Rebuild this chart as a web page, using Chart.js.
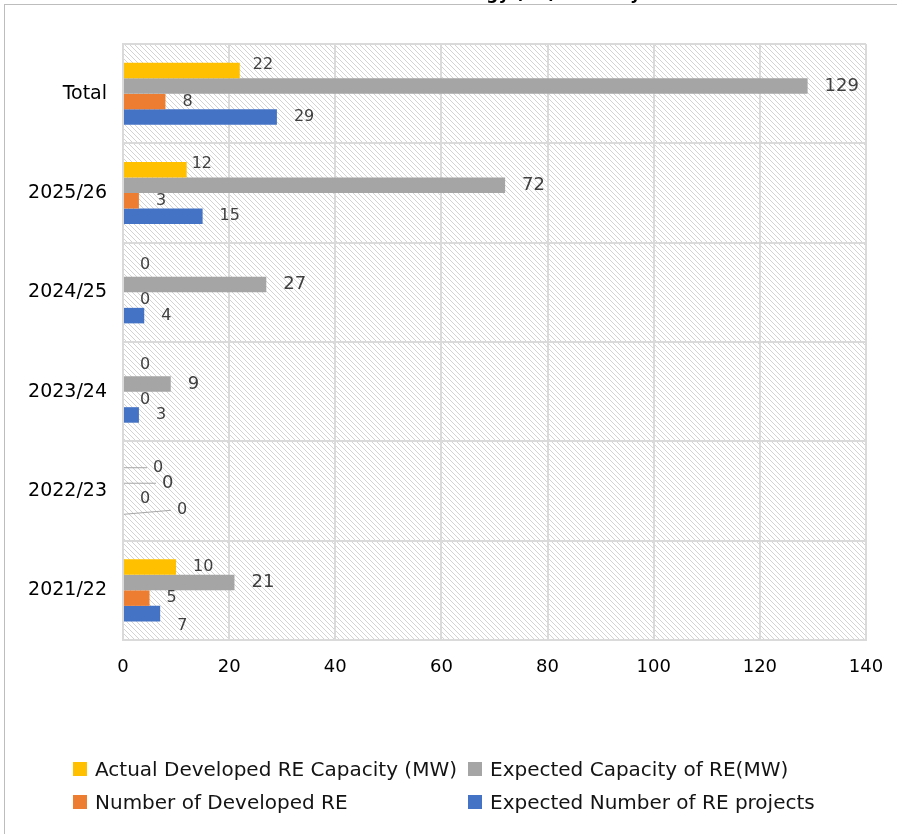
<!DOCTYPE html>
<html>
<head>
<meta charset="utf-8">
<script src="https://cdn.jsdelivr.net/npm/chart.js@4.4.1/dist/chart.umd.min.js"></script>
<style>
  html, body { margin: 0; padding: 0; background: #fff; overflow: hidden; }
  #frame { position: absolute; left: 4px; top: 4px; width: 1000px; height: 1000px;
           border-left: 1px solid #bdbdbd; border-top: 1px solid #bdbdbd; }
  #chart { position: absolute; left: 0; top: 0; }
  #legend { position: absolute; left: 73px; top: 756px; display: grid;
            grid-template-columns: 395px 420px; grid-auto-rows: 33px;
            font-family: "DejaVu Sans", sans-serif; font-size: 20px; color: #141414; }
  #legend .item { display: flex; align-items: center; height: 26px; white-space: nowrap; }
  #legend .swatch { width: 14px; height: 14px; margin-right: 8px; flex: none; }
</style>
</head>
<body>
<div id="frame"></div>
<canvas id="chart" width="897" height="834"></canvas>
<div id="legend"></div>
<script>
// Reporting periods, listed top to bottom
const categories = ['Total', '2025/26', '2024/25', '2023/24', '2022/23', '2021/22'];

// Series values per period
const actualCapacityMW   = [22, 12, 0, 0, 0, 10];
const expectedCapacityMW = [129, 72, 27, 9, 0, 21];
const developedCount     = [8, 3, 0, 0, 0, 5];
const expectedCount      = [29, 15, 4, 3, 0, 7];

const seriesNames = [
  'Actual Developed RE Capacity (MW)',
  'Expected Capacity of RE(MW)',
  'Number of Developed RE',
  'Expected Number of RE projects'
];
const seriesColors = ['#FFC000', '#A5A5A5', '#ED7D31', '#4472C4'];

// Value axis ticks
const xTicks = [0, 20, 40, 60, 80, 100, 120, 140];

const FONT = '"DejaVu Sans", sans-serif';

// Light diagonal hatching for the plot area
function makeHatch() {
  const n = 5;
  const c = document.createElement('canvas');
  c.width = n; c.height = n;
  const g = c.getContext('2d');
  g.fillStyle = '#ffffff';
  g.fillRect(0, 0, n, n);
  g.fillStyle = '#d3d3d3';
  for (let i = 0; i < n; i++) g.fillRect(i, i, 1, 1);
  return g.createPattern(c, 'repeat');
}

const hatchBackground = {
  id: 'hatchBackground',
  beforeDraw(chart) {
    const { ctx, chartArea: a } = chart;
    ctx.save();
    ctx.fillStyle = makeHatch();
    ctx.fillRect(a.left, a.top, a.right - a.left, a.bottom - a.top);
    ctx.restore();
  }
};

// Heading sits above the frame, mostly outside the page
const heading = {
  id: 'heading',
  afterDraw(chart) {
    const ctx = chart.ctx;
    ctx.save();
    ctx.font = 'bold 17px ' + FONT;
    ctx.fillStyle = '#000';
    ctx.textAlign = 'right';
    ctx.textBaseline = 'alphabetic';
    ctx.fillText('Renewable Energy (RE) Delivery', 641, -1);
    ctx.restore();
  }
};

// Value labels at the end of each bar, with leader lines where a label was moved away
const valueLabels = {
  id: 'valueLabels',
  afterDatasetsDraw(chart, args, opts) {
    const ctx = chart.ctx;
    ctx.save();
    chart.data.datasets.forEach((ds, di) => {
      const meta = chart.getDatasetMeta(di);
      const size = opts.sizes[di];
      meta.data.forEach((bar, i) => {
        const v = ds.data[i];
        const n = (opts.nudges[di] && opts.nudges[di][i]) || {};
        const x = bar.x + opts.gap + (n.dx || 0);
        const y = bar.y + opts.dy[di] + (n.dy || 0);
        if (n.leader) {
          ctx.strokeStyle = '#a6a6a6';
          ctx.lineWidth = 1;
          ctx.beginPath();
          ctx.moveTo(bar.x + 1, bar.y);
          ctx.lineTo(x - 6, y);
          ctx.stroke();
        }
        ctx.font = size + 'px ' + FONT;
        ctx.fillStyle = '#404040';
        ctx.textAlign = 'left';
        ctx.textBaseline = 'middle';
        ctx.fillText(String(v), x, y);
      });
    });
    ctx.restore();
  }
};

const chart = new Chart(document.getElementById('chart'), {
  type: 'bar',
  data: {
    labels: categories,
    datasets: [actualCapacityMW, expectedCapacityMW, developedCount, expectedCount].map((d, k) => ({
      label: seriesNames[k],
      data: d,
      backgroundColor: seriesColors[k],
      borderWidth: 0,
      categoryPercentage: 0.625,
      barPercentage: 1.0
    }))
  },
  options: {
    indexAxis: 'y',
    responsive: false,
    devicePixelRatio: 1,
    animation: false,
    layout: { autoPadding: false, padding: { top: 44, right: 31, bottom: 154, left: 0 } },
    plugins: {
      legend: { display: false },
      tooltip: { enabled: false },
      valueLabels: {
        gap: 17,
        dy: [-4, 0, 0, 0],
        sizes: [16, 18, 16, 16],
        nudges: {
          0: { 0: { dx: -4, dy: -2 }, 1: { dx: -12, dy: -2 }, 5: { dy: 4 },
               4: { dx: 13, dy: 4, leader: true } },
          1: { 4: { dx: 22, leader: true } },
          3: { 4: { dx: 37, dy: -4, leader: true }, 5: { dy: 12 } }
        }
      }
    },
    scales: {
      x: {
        min: 0, max: 140,
        afterBuildTicks(s) { s.ticks = xTicks.map(v => ({ value: v })); },
        afterFit(s) { s.height = 40; s.paddingLeft = 0; s.paddingRight = 0; },
        grid: { color: '#dadada', lineWidth: 2, drawTicks: false },
        border: { color: '#dadada', width: 2 },
        ticks: { padding: 17, color: '#000', font: { family: FONT, size: 18 } }
      },
      y: {
        afterFit(s) { s.width = 123; s.paddingTop = 0; s.paddingBottom = 0; },
        grid: { color: '#dadada', lineWidth: 2, drawTicks: false, offset: true },
        border: { color: '#dadada', width: 2 },
        ticks: { padding: 16, color: '#000', font: { family: FONT, size: 19 } }
      }
    }
  },
  plugins: [hatchBackground, valueLabels, heading]
});

// Two-column legend built from the datasets
const legend = document.getElementById('legend');
chart.data.datasets.forEach(ds => {
  const item = document.createElement('div');
  item.className = 'item';
  const sw = document.createElement('span');
  sw.className = 'swatch';
  sw.style.background = ds.backgroundColor;
  const tx = document.createElement('span');
  tx.textContent = ds.label;
  item.appendChild(sw);
  item.appendChild(tx);
  legend.appendChild(item);
});
</script>
</body>
</html>
